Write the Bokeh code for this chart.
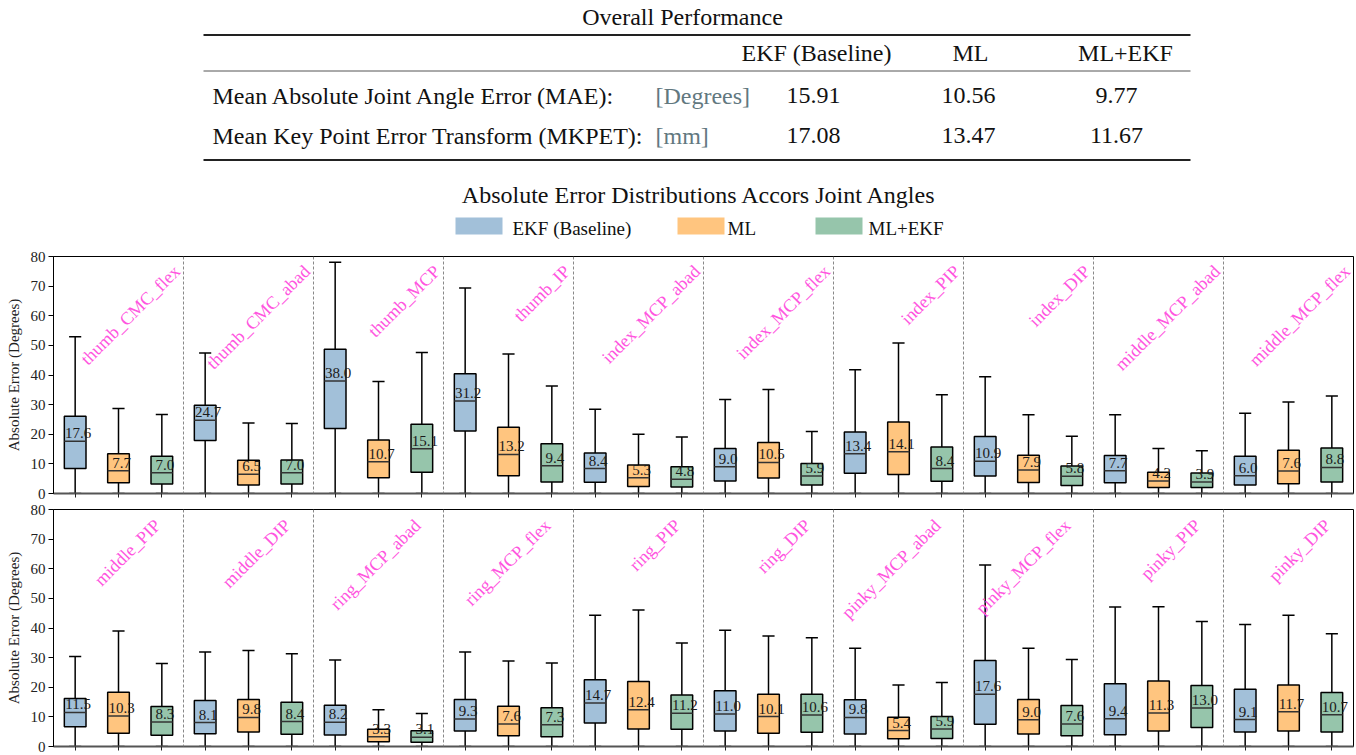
import math
from bokeh.plotting import figure
from bokeh.models import Range1d, ColumnDataSource, Span, FixedTicker
from bokeh.layouts import column
from bokeh.embed import file_html
from bokeh.resources import INLINE
from bokeh.core.properties import value

FONT = "Liberation Serif"

# ---------------- data ----------------
methods = ["EKF (Baseline)", "ML", "ML+EKF"]
method_colors = ["steelblue", "darkorange", "seagreen"]

table_rows = ["Mean Absolute Joint Angle Error (MAE):", "Mean Key Point Error Transform (MKPET):"]
table_units = ["[Degrees]", "[mm]"]
mae_values = [15.91, 10.56, 9.77]
mkpet_values = [17.08, 13.47, 11.67]

joints_top = ["thumb_CMC_flex", "thumb_CMC_abad", "thumb_MCP", "thumb_IP", "index_MCP_abad",
              "index_MCP_flex", "index_PIP", "index_DIP", "middle_MCP_abad", "middle_MCP_flex"]
joints_bottom = ["middle_PIP", "middle_DIP", "ring_MCP_abad", "ring_MCP_flex", "ring_PIP",
                 "ring_DIP", "pinky_MCP_abad", "pinky_MCP_flex", "pinky_PIP", "pinky_DIP"]

# statistics over all 20 joints (top panel first, then bottom panel)
ekf_median = [17.6, 24.7, 38.0, 31.2, 8.4, 9.0, 13.4, 10.9, 7.7, 6.0,
              11.5, 8.1, 8.2, 9.3, 14.7, 11.0, 9.8, 17.6, 9.4, 9.1]
ekf_q1 = [8.4, 17.9, 21.9, 21.1, 3.8, 4.2, 6.8, 5.9, 3.6, 2.9,
          6.7, 4.3, 3.9, 5.2, 7.9, 5.2, 4.2, 7.5, 4.0, 4.9]
ekf_q3 = [26.1, 29.8, 48.7, 40.4, 13.7, 15.2, 20.8, 19.2, 12.8, 12.6,
          16.2, 15.5, 13.9, 15.9, 22.5, 18.8, 15.8, 29.0, 21.2, 19.3]
ekf_whisker = [52.9, 47.4, 78.1, 69.4, 28.4, 31.7, 41.8, 39.4, 26.6, 27.1,
               30.4, 31.9, 29.2, 31.9, 44.3, 39.2, 33.2, 61.3, 47.1, 41.2]

ml_median = [7.7, 6.5, 10.7, 13.2, 5.3, 10.5, 14.1, 7.9, 4.2, 7.6,
             10.3, 9.8, 3.3, 7.6, 12.4, 10.1, 5.4, 9.0, 11.3, 11.7]
ml_q1 = [3.6, 2.9, 5.3, 6.0, 2.4, 5.2, 6.4, 3.7, 2.0, 3.3,
         4.5, 4.9, 1.6, 3.6, 5.9, 4.5, 2.6, 4.2, 5.2, 5.2]
ml_q3 = [13.4, 11.2, 18.1, 22.4, 9.6, 17.2, 24.1, 12.9, 7.2, 14.6,
         18.3, 15.9, 5.8, 13.6, 21.9, 17.6, 9.9, 15.9, 22.1, 20.8]
ml_whisker = [28.7, 23.8, 37.8, 47.1, 20.0, 35.1, 50.8, 26.6, 15.2, 30.9,
              39.0, 32.4, 12.4, 28.9, 46.1, 37.3, 20.8, 33.2, 47.2, 44.3]

mlekf_median = [7.0, 7.0, 15.1, 9.4, 4.8, 5.9, 8.4, 5.8, 3.9, 8.8,
                8.3, 8.4, 3.1, 7.3, 11.2, 10.6, 5.9, 7.6, 13.0, 10.7]
mlekf_q1 = [3.2, 3.2, 7.2, 3.9, 2.2, 2.9, 4.1, 2.7, 2.0, 3.9,
            3.8, 4.1, 1.4, 3.3, 5.8, 4.8, 2.7, 3.6, 6.4, 4.9]
mlekf_q3 = [12.6, 11.3, 23.4, 16.8, 9.0, 10.1, 15.7, 9.3, 6.9, 15.4,
            13.5, 14.9, 5.3, 13.1, 17.4, 17.6, 10.1, 13.8, 20.6, 18.2]
mlekf_whisker = [26.7, 23.6, 47.6, 36.3, 19.1, 20.9, 33.3, 19.3, 14.4, 32.9,
                 28.0, 31.3, 11.1, 28.2, 34.9, 36.7, 21.6, 29.4, 42.2, 38.1]

y_ticks = [0, 10, 20, 30, 40, 50, 60, 70, 80]

stats = [
    (ekf_q1, ekf_median, ekf_q3, ekf_whisker),
    (ml_q1, ml_median, ml_q3, ml_whisker),
    (mlekf_q1, mlekf_median, mlekf_q3, mlekf_whisker),
]

W = 1354
BL, BR = 53, 1          # left / right borders shared by all figures (frames align)
X0 = BL                 # picture x of frame left edge
X1 = W - BR             # picture x of frame right edge
TOP_H = 248

# ---------------- header figure (table, title, legend) ----------------
top = figure(width=W, height=TOP_H, x_range=Range1d(X0, X1), y_range=Range1d(TOP_H, 0),
             output_backend="svg", toolbar_location=None,
             min_border_left=BL, min_border_right=BR, min_border_top=0, min_border_bottom=0,
             x_axis_location=None, y_axis_location=None)
top.grid.visible = False
top.outline_line_color = None

def txt(fig, x, y, s, size, align="left", color="#111111"):
    fig.text(x=[x], y=[y], text=[s], text_font=value(FONT), text_font_size=f"{size}px",
             text_align=align, text_baseline="middle", text_color=color)

TS = 24
txt(top, 682, 16, "Overall Performance", TS, "center")
top.segment(x0=[203], y0=[34.5], x1=[1190], y1=[34.5], line_color="#222222", line_width=2)
top.segment(x0=[203], y0=[70.5], x1=[1190], y1=[70.5], line_color="#555555", line_width=1)
top.segment(x0=[203], y0=[159.5], x1=[1190], y1=[159.5], line_color="#222222", line_width=2)

header_x = [816, 970, 1125]
value_x = [813, 968, 1116]
for m, name in enumerate(methods):
    txt(top, header_x[m], 52, name, TS, "center")
row_mid = [95, 135]
row_vals = [mae_values, mkpet_values]
for r in range(2):
    txt(top, 212, row_mid[r], table_rows[r], TS)
    txt(top, 655, row_mid[r], table_units[r], TS, color="#62787f")
    for m in range(3):
        txt(top, value_x[m], row_mid[r], f"{row_vals[r][m]:.2f}", TS, "center")

txt(top, 699, 194, "Absolute Error Distributions Accors Joint Angles", TS, "center")
patch_left = [455, 677, 815]
label_left = [512, 727, 868]
for m in range(3):
    top.quad(left=[patch_left[m]], right=[patch_left[m] + 47], top=[217], bottom=[234],
             fill_color=method_colors[m], fill_alpha=0.5, line_color=None)
    txt(top, label_left[m], 228, methods[m], 19)


# ---------------- box-plot panels ----------------
def panel(joints, offset, height, border_top, border_bottom, label_dx, label_y):
    p = figure(width=W, height=height, x_range=Range1d(0, 30), y_range=Range1d(0, 80),
               output_backend="svg", toolbar_location=None,
               min_border_left=BL, min_border_right=BR, min_border_top=border_top,
               min_border_bottom=border_bottom)
    p.grid.visible = False
    p.outline_line_color = "black"
    p.outline_line_width = 1

    p.yaxis.ticker = FixedTicker(ticks=y_ticks)
    p.yaxis.minor_tick_line_color = None
    p.yaxis.major_tick_in = 0
    p.yaxis.major_tick_out = 5
    p.yaxis.major_label_standoff = 3
    p.yaxis.major_label_text_font = FONT
    p.yaxis.major_label_text_font_size = "15px"
    p.yaxis.major_label_text_color = "#222222"
    p.yaxis.axis_label = "Absolute Error (Degrees)"
    p.yaxis.axis_label_text_font = FONT
    p.yaxis.axis_label_text_font_size = "15px"
    p.yaxis.axis_label_text_font_style = "normal"
    p.yaxis.axis_label_text_color = "#222222"
    p.yaxis.axis_label_standoff = 6
    p.yaxis.axis_line_color = "black"

    box_ticks = [i + 0.5 for i in range(30)]
    p.xaxis.ticker = FixedTicker(ticks=box_ticks)
    p.xaxis.major_label_overrides = {t: "" for t in box_ticks}
    p.xaxis.minor_tick_line_color = None
    p.xaxis.major_tick_in = 0
    p.xaxis.major_tick_out = 4
    p.xaxis.major_label_standoff = 0
    p.xaxis.axis_line_color = "#555555"
    p.xaxis.axis_line_width = 2
    p.xaxis.major_tick_line_color = "#222222"

    for k in range(1, 10):
        p.add_layout(Span(location=3 * k, dimension="height", line_color="#888888",
                          line_width=1, line_dash="3 2"))

    for m in range(3):
        q1, med, q3, wh = (s[offset:offset + 10] for s in stats[m])
        xs = [3 * j + m + 0.5 for j in range(10)]
        src = ColumnDataSource(dict(
            x=xs, q1=q1, med=med, q3=q3, wh=wh, zero=[0] * 10,
            cl=[x - 0.14 for x in xs], cr=[x + 0.14 for x in xs],
            bl=[x - 0.25 for x in xs], br=[x + 0.25 for x in xs],
            lab=[f"{v:.1f}" for v in med]))
        p.segment(x0="x", y0="q3", x1="x", y1="wh", source=src, line_color="black", line_width=1.5)
        p.segment(x0="x", y0="zero", x1="x", y1="q1", source=src, line_color="black", line_width=1.5)
        p.segment(x0="cl", y0="wh", x1="cr", y1="wh", source=src, line_color="black", line_width=1.5)
        p.segment(x0="cl", y0="zero", x1="cr", y1="zero", source=src, line_color="black", line_width=1.5)
        p.vbar(x="x", width=0.5, bottom="q1", top="q3", source=src,
               fill_color=method_colors[m], fill_alpha=0.5, line_color="black", line_width=1.5)
        p.segment(x0="bl", y0="med", x1="br", y1="med", source=src, line_color="#333333", line_width=1.5)
        p.text(x="x", y="med", text="lab", source=src, text_font=value(FONT),
               text_font_size="15px", text_align="center", text_baseline="middle",
               x_offset=3, y_offset=-8, text_color="#1a1a1a")

    lsrc = ColumnDataSource(dict(x=[3 * j + 3 - label_dx for j in range(10)],
                                 y=[label_y] * 10, t=joints))
    p.text(x="x", y="y", text="t", source=lsrc, angle=math.pi / 4, text_align="right",
           text_baseline="middle", text_font=value(FONT), text_font_size="18px",
           text_color="#ff55e0")
    return p


p1 = panel(joints_top, 0, 253, 8, 8, 0.15, 76.0)
p2 = panel(joints_bottom, 10, 252, 8, 7, 0.6, 75.6)

layout = column(top, p1, p2, spacing=0)
open("out.html", "w").write(file_html(layout, INLINE))
